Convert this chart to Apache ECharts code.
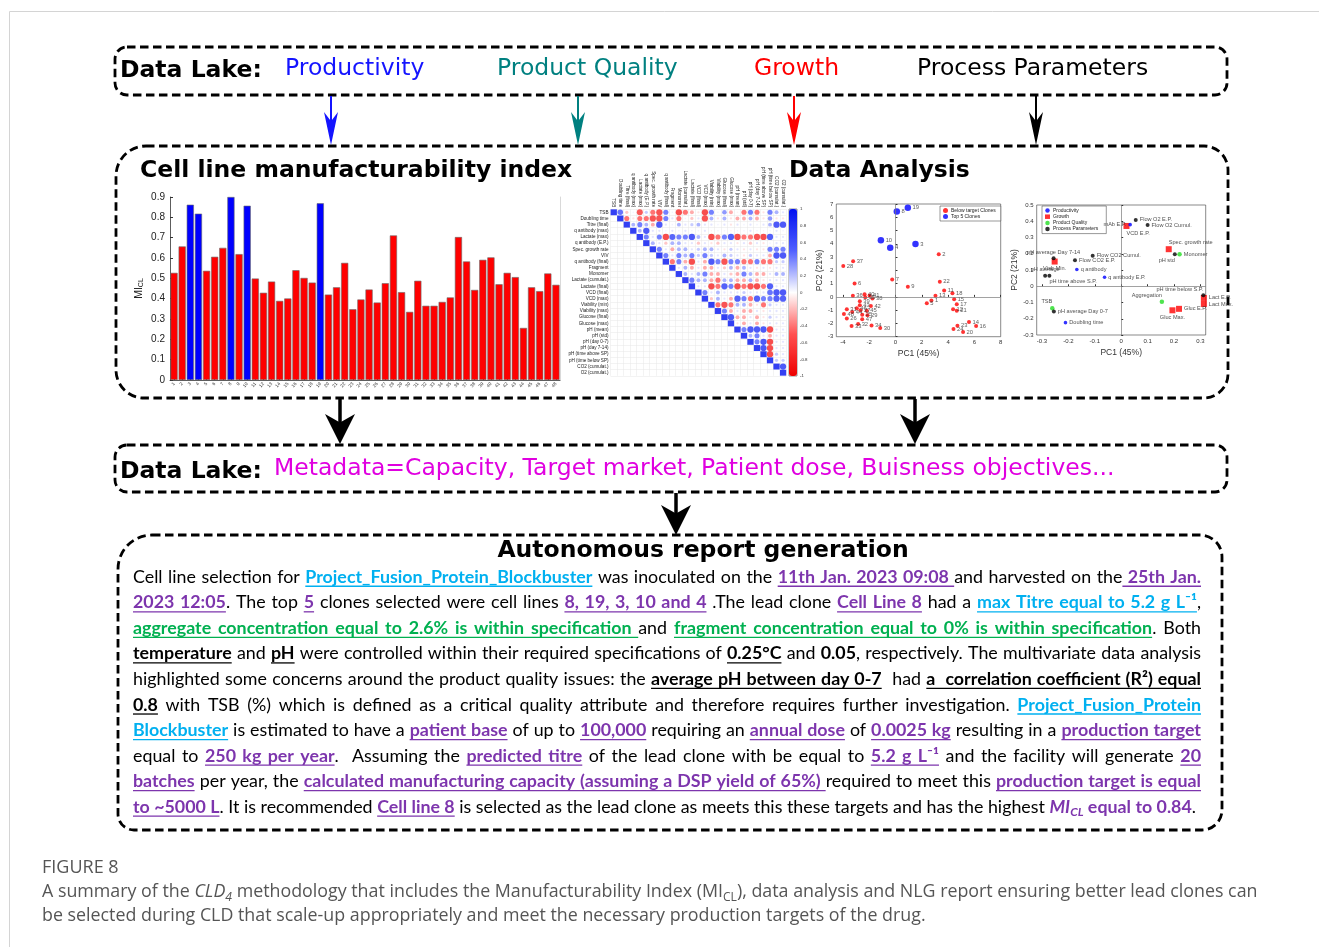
<!DOCTYPE html>
<html><head><meta charset="utf-8">
<script src="https://cdn.jsdelivr.net/npm/echarts@6/dist/echarts.min.js"></script>
<style>html,body{margin:0;padding:0;background:#fff}#c{width:1319px;height:947px}</style>
</head><body><div id="c"></div>
<script>
// ---------------- DATA ----------------
const barCategories = ['1','2','3','4','5','6','7','8','9','10','11','12','13','14','15','16','17','18','19','20','21','22','23','24','25','26','27','28','29','30','31','32','33','34','35','36','37','38','39','40','41','42','43','44','45','46','47','48'];
const barValues = [0.527,0.657,0.862,0.818,0.537,0.606,0.650,0.900,0.619,0.857,0.499,0.429,0.484,0.389,0.401,0.540,0.502,0.479,0.869,0.420,0.456,0.576,0.348,0.396,0.445,0.381,0.476,0.711,0.432,0.335,0.488,0.365,0.365,0.384,0.406,0.703,0.583,0.443,0.591,0.603,0.471,0.527,0.506,0.256,0.456,0.437,0.524,0.468];
const topClones = ['3','4','8','10','19'];

const corrVars = ['TSB','Doubling time','Titre (final)','q antibody (max)','Lactate (max)','q antibody (E.P.)','Spec. growth rate','VIV','q antibody (final)','Fragment','Monomer','Lactate (cumulat.)','Lactate (final)','VCD (final)','VCD (max)','Viability (min)','Viability (max)','Glucose (final)','Glucose (max)','pH (mean)','pH (std)','pH (day 0-7)','pH (day 7-14)','pH (time above SP)','pH (time below SP)','CO2 (cumulat.)','O2 (cumulat.)'];
// upper triangle, row i holds columns i+1 .. 26
const corrUpper = [
 [0.6,-0.2,0.05,-0.7,0.2,-0.5,-0.75,0.5,0.05,-0.8,-0.5,-0.3,-0.1,-0.8,0.5,0.05,0.4,-0.3,-0.05,-0.5,0.5,-0.5,-0.1,0.5,0.3,0.1],
 [-0.5,-0.1,-0.5,-0.5,-0.75,-0.75,0.5,0.1,-0.5,0.05,-0.2,0.1,-0.75,0.3,-0.1,0.3,-0.1,-0.3,-0.3,0.3,-0.3,-0.1,0.4,-0.1,-0.1],
 [0.3,0.5,0.3,-0.3,0.8,0.1,0.05,0.3,0.1,0.2,0.3,0.1,0.1,0.05,0.1,-0.1,0.1,0.05,0.1,0.05,0.1,0.3,0.8,0.8],
 [0.3,0.8,0.1,0.1,0.05,0.1,0.05,0.1,0.05,0.05,0.1,-0.05,0.05,0.05,-0.05,0.05,0.05,0.1,0.05,-0.05,0.05,0.1,0.05],
 [0.5,0.1,0.5,-0.8,0.7,0.5,0.5,0.8,0.3,0.1,-0.8,-0.5,0.5,0.75,-0.8,-0.5,-0.5,-0.75,-0.8,0.75,0.1,0.1],
 [0.3,0.1,-0.2,0.3,0.3,0.1,0.1,-0.2,0.1,-0.1,-0.2,0.1,0.1,-0.1,0.1,-0.2,0.1,-0.1,0.05,0.1,0.1],
 [0.5,0.1,-0.3,0.3,0.3,0.1,0.2,0.3,0.3,0.1,-0.1,0.2,0.1,-0.1,0.1,-0.1,-0.1,0.5,0.5,0.5],
 [0.5,0.1,0.5,0.3,0.5,0.2,0.5,0.2,0.1,0.3,0.2,0.1,-0.1,0.2,0.1,0.1,-0.3,0.8,0.8],
 [-0.5,0.5,-0.3,-0.8,0.1,-0.3,0.8,0.5,-0.75,0.5,0.5,-0.5,-0.5,0.5,-0.5,-0.5,0.2,0.2],
 [0.1,0.3,-0.3,0.1,-0.3,-0.3,0.1,-0.2,0.3,-0.3,0.3,0.1,-0.1,0.1,-0.1,0.1,0.1],
 [0.3,0.1,0.3,0.5,-0.3,-0.3,0.1,-0.2,-0.3,0.5,0.3,-0.3,-0.3,0.1,0.3,0.3],
 [0.5,0.3,0.3,-0.3,-0.5,0.3,0.3,-0.3,-0.3,0.3,-0.3,-0.1,0.1,0.1,0.1],
 [0.1,0.1,-0.8,-0.5,0.75,0.5,-0.8,-0.5,-0.75,-0.8,-0.5,0.75,0.1,0.1],
 [0.5,0.1,0.3,0.1,0.1,0.1,0.2,0.1,0.1,0.1,0.6,0.8,0.8],
 [-0.2,0.3,0.1,-0.3,0.75,0.5,-0.5,0.75,0.5,0.5,0.75,0.75],
 [-0.5,-0.75,-0.5,0.3,0.3,-0.3,-0.1,-0.5,0.2,0.1,0.1],
 [0.5,-0.3,0.1,-0.3,-0.3,0.1,-0.1,0.1,0.1,0.1],
 [0.8,-0.3,-0.3,0.1,-0.3,-0.1,0.2,0.1,0.1],
 [-0.1,-0.3,0.1,-0.3,-0.1,0.1,0.1,0.1],
 [0.5,0.8,0.8,0.8,-0.8,0.1,0.1],
 [0.3,0.5,0.1,-0.3,0.1,0.1],
 [0.5,0.8,-0.8,0.1,0.1],
 [0.8,-0.8,0.1,0.1],
 [-0.8,0.2,0.1],
 [0.2,0.2],
 [0.8]
];
const colorbarTicks = [1,0.8,0.6,0.4,0.2,0,-0.2,-0.4,-0.6,-0.8,-1];

const scoreBelowLabels = ['2','37','28','7','6','9','22','11','18','13','1','5','15','17','12','21','14','16','23','24','20','36','40','41','38','35','39','43','42','31','46','48','27','45','44','29','25','26','47','34','30','32','33'];
const scoreBelowPC1 = [3.29,-3.22,-3.97,-0.25,-3.11,0.94,3.37,3.70,4.33,3.04,2.73,2.38,4.46,4.66,4.38,4.66,5.59,6.13,4.71,4.41,5.14,-3.24,-2.35,-1.97,-1.75,-2.30,-2.71,-2.71,-1.87,-3.70,-2.94,-3.92,-2.66,-2.18,-3.29,-2.13,-2.53,-3.70,-2.53,-1.82,-1.16,-2.84,-3.34];
const scoreBelowPC2 = [3.21,2.68,2.32,1.31,1.01,0.76,1.14,0.48,0.28,0.08,-0.28,-0.48,-0.18,-0.56,-0.93,-1.04,-1.89,-2.20,-2.17,-2.42,-2.65,0.08,0.20,0.10,-0.13,-0.03,-0.33,-0.63,-0.68,-0.93,-0.86,-1.29,-1.01,-1.04,-1.14,-1.39,-1.34,-1.62,-1.69,-2.15,-2.35,-2.05,-2.20];
const scoreTopLabels = ['19','8','10','4','3'];
const scoreTopPC1 = [0.94,0.10,-1.11,-0.40,1.52];
const scoreTopPC2 = [6.72,6.44,4.27,3.71,3.99];
const scorePC1Ticks = [-4,-2,0,2,4,6,8];

const loadProdNames = ['mAb E.P.','q antibody','q antibody E.P.','Doubling time'];
const loadProdPC1 = [0.034,-0.168,-0.063,-0.211];
const loadProdPC2 = [0.379,0.103,0.055,-0.224];
const loadGrowthNames = ['VCD E.P.','Spec. growth rate','Viab Min.','Lact E.P.','Lact Max.','Gluc E.P.','Gluc Max.'];
const loadGrowthPC1 = [0.020,0.180,-0.252,0.313,0.313,0.219,0.194];
const loadGrowthPC2 = [0.371,0.228,0.152,-0.072,-0.109,-0.139,-0.148];
const loadQualNames = ['Monomer','Aggregation','TSB'];
const loadQualPC1 = [0.221,0.154,-0.261];
const loadQualPC2 = [0.197,-0.096,-0.135];
const loadProcNames = ['Flow O2 E.P.','Flow O2 Cumul.','pH std','pH average Day 7-14','Flow CO2 Cumul.','Flow CO2 E.P.','pH average','pH time above S.P.','pH average Day 0-7','pH time below S.P.'];
const loadProcPC1 = [0.055,0.100,0.203,-0.256,-0.108,-0.175,-0.288,-0.272,-0.255,0.311];
const loadProcPC2 = [0.408,0.377,0.197,0.172,0.187,0.160,0.064,0.064,-0.156,-0.055];
const loadPC1Ticks = [-0.3,-0.2,-0.1,0,0.1,0.2,0.3];

const headerTop = [['Productivity','#1414ff',285],['Product Quality','#008080',497],['Growth','#ff0000',754],['Process Parameters','#000000',917]];
const metadataText = 'Metadata=Capacity, Target market, Patient dose, Buisness objectives...';

const reportLines = [
 [['Cell line selection for ','n'],['Project_Fusion_Protein_Blockbuster','cy'],[' was inoculated on the ','n'],['11th Jan. 2023 09:08 ','pu'],['and harvested on the','n'],[' 25th Jan.','pu']],
 [['2023 12:05','pu'],['. The top ','n'],['5','pu'],[' clones selected were cell lines ','n'],['8, 19, 3, 10 and 4','pu'],[' .The lead clone ','n'],['Cell Line 8','pu'],[' had a ','n'],['max Titre equal to 5.2 g L\u207B\u00B9','cy'],[',','n']],
 [['aggregate concentration equal to 2.6% is within specification ','gr'],['and ','n'],['fragment concentration equal to 0% is within specification','gr'],['. Both','n']],
 [['temperature','bu'],[' and ','n'],['pH','bu'],[' were controlled within their required specifications of ','n'],['0.25\u00B0C','bu'],[' and ','n'],['0.05','b'],[', respectively. The multivariate data analysis','n']],
 [['highlighted some concerns around the product quality issues: the ','n'],['average pH between day 0-7','bu'],['  had ','n'],['a  correlation coefficient (R\u00B2) equal','bu']],
 [['0.8','bu'],[' with TSB (%) which is defined as a critical quality attribute and therefore requires further investigation. ','n'],['Project_Fusion_Protein','cy']],
 [['Blockbuster','cy'],[' is estimated to have a ','n'],['patient base','pu'],[' of up to ','n'],['100,000','pu'],[' requiring an ','n'],['annual dose','pu'],[' of ','n'],['0.0025 kg','pu'],[' resulting in a ','n'],['production target','pu']],
 [['equal to ','n'],['250 kg per year','pu'],['.  Assuming the ','n'],['predicted titre','pu'],[' of the lead clone with be equal to ','n'],['5.2 g L\u207B\u00B9','pu'],[' and the facility will generate ','n'],['20','pu']],
 [['batches','pu'],[' per year, the ','n'],['calculated manufacturing capacity (assuming a DSP yield of 65%) ','pu'],['required to meet this ','n'],['production target is equal','pu']],
 [['to ~5000 L','pu'],['. It is recommended ','n'],['Cell line 8','pu'],[' is selected as the lead clone as meets this these targets and has the highest ','n'],['MI','mi'],['CL','ms'],[' equal to 0.84','pb'],['.','n']]
];
const captionTitle = 'FIGURE 8';
const captionLines = [
 [['A summary of the ','c'],['CLD','ci'],['4','cis'],[' methodology that includes the Manufacturability Index (MI','c'],['CL','cs'],['), data analysis and NLG report ensuring better lead clones can','c']],
 [['be selected during CLD that scale-up appropriately and meet the necessary production targets of the drug.','c']]
];

// ---------------- STYLE / LAYOUT ----------------
const PLOT_FONT = '"Liberation Sans", Arial, sans-serif';
const HEAD_FONT = '"DejaVu Sans", Verdana, sans-serif';
const BODY_FONT = 'Lato, "Open Sans", sans-serif';
const CAP_FONT = '"Open Sans", sans-serif';
const PURPLE = '#7d35ad', CYAN = '#00b0f0', GREEN = '#00b050';
const STY = {
 n:{color:'#000'}, b:{color:'#000',bold:1}, bu:{color:'#000',bold:1,ul:1},
 cy:{color:CYAN,bold:1,ul:1}, pu:{color:PURPLE,bold:1,ul:1}, pb:{color:PURPLE,bold:1},
 gr:{color:GREEN,bold:1,ul:1}, mi:{color:PURPLE,bold:1,italic:1}, ms:{color:PURPLE,bold:1,italic:1,sub:1},
 c:{color:'#555'}, ci:{color:'#555',italic:1}, cis:{color:'#555',italic:1,sub:1}, cs:{color:'#555',sub:1}
};
const mctx = document.createElement('canvas').getContext('2d');
function fontOf(st, size, fam){ return (st.italic?'italic ':'')+(st.bold?'bold ':'')+(st.sub?size*0.68:size).toFixed(2)+'px '+fam; }
function tokens(segs, size, fam){
  const out=[];
  segs.forEach((s,si)=>{ s[0].split(/( +)/).forEach(t=>{ if(!t) return; const st=STY[s[1]]; mctx.font=fontOf(st,size,fam);
    out.push({t, st, si, sp:/^ +$/.test(t), w:mctx.measureText(t).width}); }); });
  return out;
}
function naturalWidth(segs,size,fam){ return tokens(segs,size,fam).reduce((a,k)=>a+k.w,0); }
function layoutLine(segs, y, x0, x1, size, fam, justify, els){
  const tk = tokens(segs,size,fam);
  const nat = tk.reduce((a,k)=>a+k.w,0);
  const nsp = tk.reduce((a,k)=>a+(k.sp?k.t.length:0),0);
  const extra = (justify && nsp) ? (x1-x0-nat)/nsp : 0;
  let x=x0; const segX={};
  tk.forEach(k=>{ if(k.sp) k.w += extra*k.t.length; k.x=x; x+=k.w;
    const r=segX[k.si]||(segX[k.si]={a:k.x,b:k.x+k.w,st:k.st}); r.b=k.x+k.w; });
  tk.forEach(k=>{ if(k.sp) return; els.push({type:'text', silent:true, style:{text:k.t, x:k.x, y:y+(k.st.sub?size*0.3:0), font:fontOf(k.st,size,fam), fill:k.st.color, align:'left', verticalAlign:'middle', textAlign:'left', textVerticalAlign:'middle'}}); });
  Object.values(segX).forEach(r=>{ if(r.st.ul) els.push({type:'line', silent:true, shape:{x1:r.a,y1:y+size*0.52,x2:r.b,y2:y+size*0.52}, style:{stroke:r.st.color,lineWidth:1.3}}); });
}

const els = [];
els.push({type:'rect', silent:true, shape:{x:9.5,y:11.5,width:1400,height:1000}, style:{fill:'none',stroke:'#d4d4d4',lineWidth:1}});
const dash = {fill:'none', stroke:'#000', lineWidth:2.8, lineDash:[8.5,4.5]};
els.push({type:'rect', silent:true, shape:{x:115,y:47,width:1112,height:48,r:12}, style:dash});
els.push({type:'rect', silent:true, shape:{x:116,y:146,width:1112,height:252,r:[30,24,24,28]}, style:dash});
els.push({type:'rect', silent:true, shape:{x:115,y:445,width:1112,height:47,r:12}, style:dash});
els.push({type:'rect', silent:true, shape:{x:118,y:535,width:1104,height:295,r:[34,22,20,16]}, style:dash});
function arrow(x, y0, yTip, headH, headW, color, lw){
  els.push({type:'line', silent:true, shape:{x1:x,y1:y0,x2:x,y2:yTip-headH*0.6}, style:{stroke:color,lineWidth:lw}});
  els.push({type:'polygon', silent:true, shape:{points:[[x,yTip],[x-headW/2,yTip-headH],[x,yTip-headH*0.72],[x+headW/2,yTip-headH]]}, style:{fill:color}});
}
arrow(331,96,145,33,14,'#1414ff',2);
arrow(578,96,145,33,14,'#008080',2);
arrow(794,96,145,33,14,'#ff0000',2);
arrow(1036,96,145,33,14,'#000',2);
arrow(340,399,444,30,30,'#000',3.5);
arrow(915,399,444,30,30,'#000',3.5);
arrow(676,493,535,30,30,'#000',3.5);
function txt(t,x,y,font,color,align){ els.push({type:'text', silent:true, style:{text:t,x,y,font,fill:color,align:align||'left',verticalAlign:'middle',textAlign:align||'left',textVerticalAlign:'middle'}}); }
txt('Data Lake:',120,71,'bold 23.5px '+HEAD_FONT,'#000');
headerTop.forEach(h=>txt(h[0],h[2],69,'23.5px '+HEAD_FONT,h[1]));
txt('Cell line manufacturability index',140,171,'bold 23.5px '+HEAD_FONT,'#000');
txt('Data Analysis',789,171,'bold 23.5px '+HEAD_FONT,'#000');
txt('Data Lake:',120,471.5,'bold 23.5px '+HEAD_FONT,'#000');
txt(metadataText,274,469,'23.5px '+HEAD_FONT,'#e000e0');
txt('Autonomous report generation',703,550.5,'bold 23.5px '+HEAD_FONT,'#000','center');
const RX0=133, RX1=1201, RY0=577, RDY=25.55;
let bsize = 18;
reportLines.forEach((ln,i)=>{ const tgt=(i===reportLines.length-1?1196:RX1)-RX0; const w=naturalWidth(ln,18,BODY_FONT); bsize=Math.min(bsize, 18*tgt/w); });
reportLines.forEach((ln,i)=>layoutLine(ln, RY0+i*RDY, RX0, i===reportLines.length-1?1196:RX1, bsize, BODY_FONT, true, els));
mctx.font='17px '+CAP_FONT; const fsz = 17*95/mctx.measureText(captionTitle).width;
txt(captionTitle,42,868,Math.min(fsz,18).toFixed(2)+'px '+CAP_FONT,'#555');
const csize = 16*1216/naturalWidth(captionLines[0],16,CAP_FONT);
captionLines.forEach((ln,i)=>layoutLine(ln, 892+i*24, 42, 1258, csize, CAP_FONT, false, els));

// ---------------- CHART ----------------
const barData = barValues.map((v,i)=>({value:v, itemStyle:{color: topClones.includes(barCategories[i]) ? '#0000ff' : '#ff0000'}}));
const circ=[], lower=[], diag=[];
function corrTextColor(r){ const t=0.45+0.55*Math.abs(r); const c=Math.round(255*(1-t)); return r>=0?`rgb(${c},${c},255)`:`rgb(255,${c},${c})`; }
corrUpper.forEach((row,i)=>row.forEach((r,k)=>{ const j=i+1+k; circ.push([j,i,r]); lower.push({value:[i,j,r], label:{color:corrTextColor(r)}}); }));
corrVars.forEach((v,i)=>diag.push([i,i,1]));

const labelCfg = {
 right:{position:'right',distance:2}, left:{position:'left',distance:2}, top:{position:'top',distance:1},
 topR:{position:'top',distance:1,align:'right'}, topL:{position:'top',distance:1,align:'left'},
 bottom:{position:'bottom',distance:1}, bottomL:{position:'bottom',distance:1,align:'left'}, bottomR:{position:'bottom',distance:1,align:'right'}
};
const loadLabelPlace = {'mAb E.P.':'left','q antibody':'right','q antibody E.P.':'right','Doubling time':'right',
 'VCD E.P.':'bottomL','Spec. growth rate':'topL','Viab Min.':'bottom','Lact E.P.':'right','Lact Max.':'right','Gluc E.P.':'right','Gluc Max.':'bottom',
 'Monomer':'right','Aggregation':'topR','TSB':'topR',
 'Flow O2 E.P.':'right','Flow O2 Cumul.':'right','pH std':'bottomR','pH average Day 7-14':'top','Flow CO2 Cumul.':'right','Flow CO2 E.P.':'right',
 'pH average':'top','pH time above S.P.':'bottomL','pH average Day 0-7':'right','pH time below S.P.':'topR'};
function loadPoints(names,p1,p2){ return names.map((n,i)=>({name:n, value:[p1[i],p2[i]], label:Object.assign({show:true, formatter:n, fontSize:5.6, color:'#222', fontFamily:PLOT_FONT}, labelCfg[loadLabelPlace[n]])})); }
function scorePoints(names,p1,p2){ return names.map((n,i)=>({name:n, value:[p1[i],p2[i]]})); }
const zeroLines = {silent:true, symbol:'none', label:{show:false}, lineStyle:{color:'#7a7a7a',width:0.7,type:'solid'}, data:[{xAxis:0},{yAxis:0}], animation:false};
const fmt1 = v => { const r=Math.round(v*10)/10; return r===0?'0':String(r); };
const tickLbl = {fontSize:6, color:'#333', margin:3, fontFamily:PLOT_FONT};

const option = {
 animation:false,
 textStyle:{fontFamily:PLOT_FONT},
 graphic:{elements:els},
 grid:[
  {left:170, top:197, width:390, height:183},
  {left:610.5, top:209.2, width:175.8, height:166.6},
  {left:789, top:209, width:8, height:167, show:true, borderColor:'#222', borderWidth:0.5},
  {left:836.3, top:204, width:164.4, height:132.7, show:true, borderColor:'#3a3a3a', borderWidth:0.6},
  {left:1036.7, top:205, width:169, height:130, show:true, borderColor:'#3a3a3a', borderWidth:0.6}
 ],
 xAxis:[
  {gridIndex:0, type:'category', data:barCategories, axisLine:{lineStyle:{color:'#333',width:0.8}}, axisTick:{show:true,inside:true,length:2,alignWithLabel:true,lineStyle:{color:'#333'}}, axisLabel:{fontSize:4.6, rotate:50, interval:0, margin:3, color:'#333'}},
  {gridIndex:1, type:'category', data:corrVars, position:'top', axisLine:{show:false}, axisTick:{show:false}, axisLabel:{rotate:90, fontSize:4.6, margin:2, interval:0, color:'#222'}, splitLine:{show:true, interval:0, lineStyle:{color:'#e6e6e6',width:0.5}}},
  {gridIndex:2, type:'value', show:false, min:0, max:1},
  {gridIndex:3, type:'value', min:-4.5, max:8, axisLine:{show:false}, splitLine:{show:false}, axisTick:{inside:true,length:2,customValues:scorePC1Ticks,lineStyle:{color:'#333'}}, axisLabel:Object.assign({customValues:scorePC1Ticks, formatter:fmt1}, tickLbl), name:'PC1 (45%)', nameLocation:'middle', nameGap:12, nameTextStyle:{fontSize:8.5,color:'#333'}},
  {gridIndex:4, type:'value', min:-0.32, max:0.32, axisLine:{show:false}, splitLine:{show:false}, axisTick:{inside:true,length:2,customValues:loadPC1Ticks,lineStyle:{color:'#333'}}, axisLabel:Object.assign({customValues:loadPC1Ticks, formatter:fmt1}, tickLbl), name:'PC1 (45%)', nameLocation:'middle', nameGap:13, nameTextStyle:{fontSize:8.5,color:'#333'}}
 ],
 yAxis:[
  {gridIndex:0, type:'value', min:0, max:0.9, interval:0.1, axisLine:{show:true,lineStyle:{color:'#333',width:0.8}}, axisTick:{show:true,inside:true,length:3,lineStyle:{color:'#333'}}, splitLine:{show:false}, axisLabel:{fontSize:10, color:'#222', margin:5, formatter:fmt1},
   name:'{a|MI}{b|CL}', nameLocation:'middle', nameRotate:90, nameGap:25, nameTextStyle:{rich:{a:{fontSize:10.5,color:'#222',lineHeight:14,verticalAlign:'bottom'},b:{fontSize:7,color:'#222',verticalAlign:'bottom',lineHeight:14}}}},
  {gridIndex:1, type:'category', data:corrVars, inverse:true, axisLine:{show:false}, axisTick:{show:false}, axisLabel:{fontSize:4.6, margin:2, interval:0, color:'#222'}, splitLine:{show:true, interval:0, lineStyle:{color:'#e6e6e6',width:0.5}}},
  {gridIndex:2, type:'value', min:-1, max:1, interval:0.2, position:'right', axisLine:{show:false}, axisTick:{show:false}, splitLine:{show:false}, axisLabel:{fontSize:4.4, margin:3, color:'#333', formatter:fmt1, customValues:colorbarTicks}},
  {gridIndex:3, type:'value', min:-3, max:7, interval:1, axisLine:{show:false}, splitLine:{show:false}, axisTick:{inside:true,length:2,lineStyle:{color:'#333'}}, axisLabel:Object.assign({formatter:fmt1}, tickLbl), name:'PC2 (21%)', nameLocation:'middle', nameRotate:90, nameGap:9, nameTextStyle:{fontSize:8.5,color:'#333'}},
  {gridIndex:4, type:'value', min:-0.3, max:0.5, interval:0.1, axisLine:{show:false}, splitLine:{show:false}, axisTick:{inside:true,length:2,lineStyle:{color:'#333'}}, axisLabel:Object.assign({formatter:fmt1}, tickLbl), name:'PC2 (21%)', nameLocation:'middle', nameRotate:90, nameGap:15, nameTextStyle:{fontSize:8.5,color:'#333'}},
  {gridIndex:0, type:'value', position:'right', min:0, max:0.9, axisLine:{show:true,lineStyle:{color:'#cfcfcf',width:0.8}}, axisTick:{show:false}, axisLabel:{show:false}, splitLine:{show:false}}
 ],
 visualMap:{type:'continuous', min:-1, max:1, dimension:2, seriesIndex:[1], inRange:{color:['#ee0000','#ff5050','#ffffff','#5060ff','#0010f0']}, left:789, top:209, itemWidth:8, itemHeight:167, padding:0, calculable:false, hoverLink:false, show:true},
 legend:[
  {data:['Below target Clones','Top 5 Clones'], left:940, top:206, orient:'vertical', itemGap:1, itemWidth:5, itemHeight:5, padding:[2,5,2,3], borderColor:'#333', borderWidth:0.5, backgroundColor:'#fff', textStyle:{fontSize:5, color:'#222', padding:[0,0,0,-2]}, selectedMode:false},
  {data:['Productivity','Growth','Product Quality','Process Parameters'], left:1042, top:206, orient:'vertical', itemGap:1.2, itemWidth:5, itemHeight:4.5, padding:[2,8,2,3], borderColor:'#333', borderWidth:0.5, backgroundColor:'#fff', textStyle:{fontSize:5, color:'#222', padding:[0,0,0,-2]}, selectedMode:false}
 ],
 series:[
  {type:'bar', xAxisIndex:0, yAxisIndex:0, data:barData, barCategoryGap:'12%', itemStyle:{borderColor:'#6a6a6a', borderWidth:0.6}},
  {type:'scatter', xAxisIndex:1, yAxisIndex:1, data:circ, symbol:'circle', symbolSize:v=>Math.min(6.3, 7.2*Math.sqrt(Math.abs(v[2]))), silent:true},
  {type:'scatter', xAxisIndex:1, yAxisIndex:1, data:diag, symbol:'rect', symbolSize:[6.3,5.9], itemStyle:{color:'#0010f0'}, silent:true},
  {type:'scatter', xAxisIndex:1, yAxisIndex:1, data:lower, symbolSize:1, itemStyle:{opacity:0}, label:{show:true, position:'inside', fontSize:3.2, formatter:p=>p.value[2].toFixed(2)}, silent:true},
  {type:'scatter', xAxisIndex:2, yAxisIndex:2, data:[], silent:true},
  {name:'Below target Clones', type:'scatter', xAxisIndex:3, yAxisIndex:3, data:scorePoints(scoreBelowLabels,scoreBelowPC1,scoreBelowPC2), symbolSize:4, itemStyle:{color:'#ff0000'}, label:{show:true, position:'right', distance:1.5, formatter:'{b}', fontSize:5.8, color:'#333'}, markLine:zeroLines, z:3},
  {name:'Top 5 Clones', type:'scatter', xAxisIndex:3, yAxisIndex:3, data:scorePoints(scoreTopLabels,scoreTopPC1,scoreTopPC2), symbolSize:6.5, itemStyle:{color:'#0000ff'}, label:{show:true, position:'right', distance:1.5, formatter:'{b}', fontSize:5.8, color:'#333'}, z:4},
  {name:'Productivity', type:'scatter', xAxisIndex:4, yAxisIndex:4, data:loadPoints(loadProdNames,loadProdPC1,loadProdPC2), symbolSize:3.6, itemStyle:{color:'#0000ff'}, markLine:zeroLines, z:5},
  {name:'Growth', type:'scatter', xAxisIndex:4, yAxisIndex:4, data:loadPoints(loadGrowthNames,loadGrowthPC1,loadGrowthPC2), symbol:'rect', symbolSize:6, itemStyle:{color:'#ff0000'}, z:3},
  {name:'Product Quality', type:'scatter', xAxisIndex:4, yAxisIndex:4, data:loadPoints(loadQualNames,loadQualPC1,loadQualPC2), symbolSize:4.5, itemStyle:{color:'#22dd22'}, z:4},
  {name:'Process Parameters', type:'scatter', xAxisIndex:4, yAxisIndex:4, data:loadPoints(loadProcNames,loadProcPC1,loadProcPC2), symbolSize:4, itemStyle:{color:'#000'}, z:4}
 ]
};
const chart = echarts.init(document.getElementById('c'), null, {renderer:'canvas'});
chart.setOption(option);
</script></body></html>
